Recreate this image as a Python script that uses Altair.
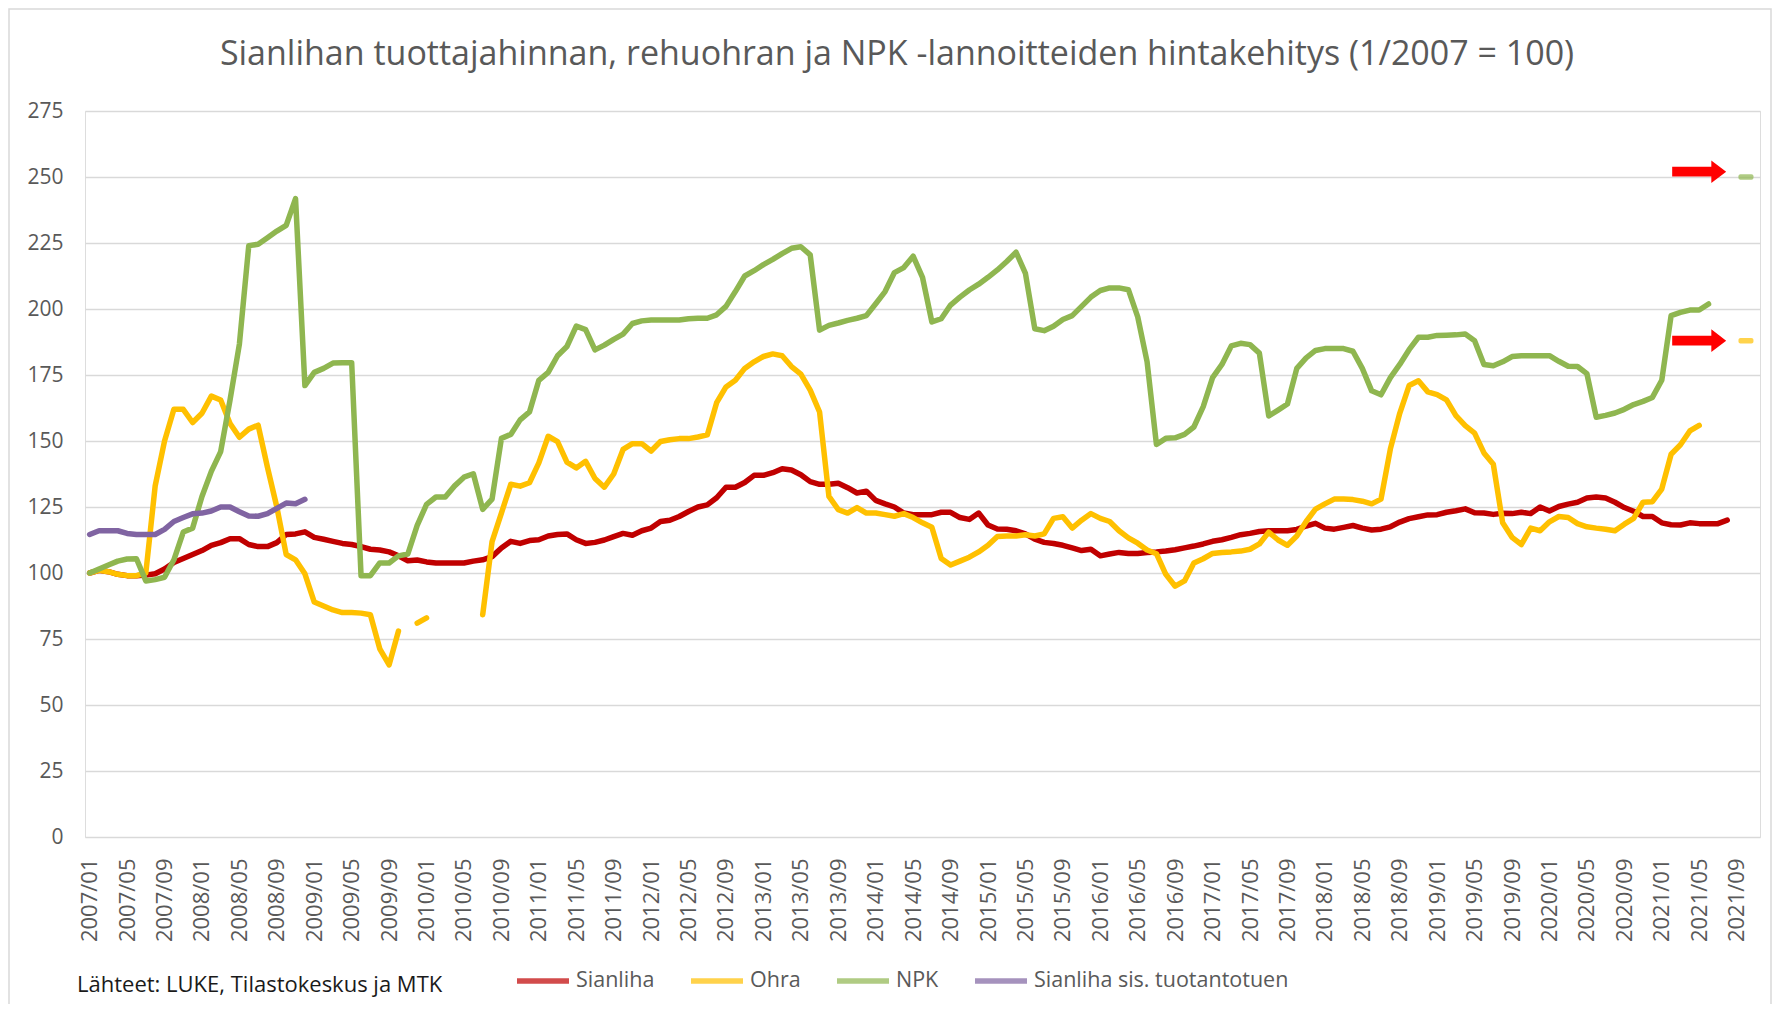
import altair as alt
import pandas as pd

# ---------------- data ----------------
months = [f"{y}/{m:02d}" for y in range(2007, 2022) for m in range(1, 13)]
months = months[: months.index("2021/11") + 1]
tick_labels = months[::4]  # 2007/01, 2007/05, ..., 2021/09

series_names = ["Sianliha", "Ohra", "NPK", "Sianliha sis. tuotantotuen"]
series_colors = ["#C00000", "#FFC000", "#8FB650", "#8064A2"]

sianliha = [
    100, 101, 100.5, 99.5, 99, 99, 99.2, 99.7, 101.5, 104,
    105.5, 107, 108.5, 110.5, 111.5, 113, 113, 110.8, 110, 110,
    111.5, 114.6, 114.8, 115.6, 113.5, 112.8, 112, 111.2, 110.8, 110,
    109, 108.7, 108, 106.5, 104.6, 104.9, 104.2, 103.8, 103.8, 103.8,
    103.8, 104.5, 105, 106.2, 109.5, 112, 111.2, 112.3, 112.6, 114,
    114.6, 114.8, 112.6, 111.2, 111.6, 112.5, 113.8, 115, 114.3, 116,
    117, 119.5, 120, 121.4, 123.3, 125, 125.8, 128.5, 132.5, 132.5,
    134.3, 137, 137, 138, 139.5, 139, 137.2, 134.6, 133.6, 133.6,
    134, 132.3, 130.3, 131, 127.5, 126.2, 125, 122.7, 122.1, 122.1,
    122.1, 123, 123, 121, 120.3, 122.7, 118.2, 116.7, 116.6, 116,
    114.8, 112.8, 111.6, 111.2, 110.5, 109.5, 108.5, 109, 106.5, 107.2,
    107.8, 107.4, 107.4, 107.8, 108, 108.3, 108.8, 109.5, 110.2, 111,
    112, 112.6, 113.5, 114.5, 115, 115.7, 116, 116, 116, 116.5,
    117.8, 118.8, 117, 116.6, 117.3, 118, 117, 116.3, 116.6, 117.5,
    119.3, 120.6, 121.3, 122, 122.1, 123, 123.6, 124.3, 122.8, 122.7,
    122.2, 122.6, 122.5, 123, 122.5, 125, 123.5, 125.2, 126.1, 126.8,
    128.4, 128.8, 128.4, 126.8, 124.8, 123.4, 121.4, 121.4, 119, 118.3,
    118.2, 119, 118.7, 118.7, 118.7, 120,
]

ohra = [
    100, 101, 100.5, 99.5, 99, 99, 100, 133, 150, 162,
    162, 157, 160.5, 167, 165.5, 156.6, 151.4, 154.5, 156, 140,
    125, 107, 105, 99.7, 89, 87.5, 86, 85, 85, 84.8,
    84.2, 71.3, 65.2, 78, None, 81, 83, None, None, None,
    None, None, 84.2, 111.9, 122.7, 133.6, 132.9, 134.2, 141.7, 151.8,
    149.8, 142, 139.8, 142.3, 135.8, 132.5, 137.5, 146.8, 149, 149,
    146.2, 149.8, 150.5, 150.9, 150.9, 151.5, 152.3, 164.5, 170.5, 173,
    177.5, 180, 182, 183, 182.3, 178.2, 175.3, 169.3, 161, 129,
    124, 122.7, 124.8, 122.7, 122.7, 122.1, 121.5, 122.5, 121, 119,
    117.3, 105.5, 103, 104.5, 106, 108, 110.5, 113.8, 114, 114,
    114.5, 114, 114.8, 120.7, 121.3, 117, 120, 122.5, 120.7, 119.5,
    116, 113.3, 111.3, 108.7, 107.3, 99.5, 95, 97, 103.8, 105.4,
    107.4, 107.8, 108, 108.3, 109, 111, 115.5, 112.5, 110.5, 114,
    119.5, 124.2, 126.2, 128, 128, 127.8, 127.2, 126.2, 128, 147,
    160.5, 171, 172.8, 168.6, 167.6, 165.6, 159.6, 155.8, 153, 145.5,
    141.2, 119, 113.5, 110.8, 117, 116, 119.4, 121.4, 121, 118.7,
    117.5, 117, 116.6, 116, 118.5, 120.7, 126.8, 127, 131.8, 145,
    148.6, 153.8, 155.9,
]

npk = [
    100, 101.5, 103, 104.5, 105.3, 105.4, 97, 97.5, 98.4, 105,
    115.5, 117, 129, 138.5, 146, 165.5, 186.7, 224, 224.5, 227,
    229.5, 231.7, 241.8, 171, 176, 177.5, 179.5, 179.6, 179.6, 99,
    99, 103.8, 103.8, 106.5, 107.2, 118, 126, 128.8, 128.8, 133,
    136.3, 137.6, 124.1, 128, 151, 152.5, 158, 161, 173, 176,
    182.3, 185.8, 193.5, 192.2, 184.5, 186.3, 188.5, 190.5, 194.5, 195.5,
    195.8, 195.8, 195.8, 195.8, 196.3, 196.5, 196.5, 197.8, 201, 206.6,
    212.5, 214.5, 216.8, 218.8, 221, 223, 223.6, 220.5, 192, 193.8,
    194.7, 195.7, 196.5, 197.5, 202, 206.6, 213.8, 215.7, 220, 212,
    195.1, 196.3, 201.5, 204.5, 207.2, 209.4, 212, 214.8, 218, 221.5,
    213.5, 192.5, 191.8, 193.5, 196, 197.5, 201, 204.5, 207, 208,
    208, 207.3, 197, 180, 148.7, 151, 151.2, 152.5, 155.3, 163,
    174, 179, 186, 187, 186.5, 183.3, 159.5, 161.7, 164, 177.5,
    181.5, 184.3, 185, 185, 185, 184, 177.5, 169, 167.5, 174,
    179, 184.6, 189.3, 189.3, 190, 190.1, 190.2, 190.5, 188, 179,
    178.5, 180, 182, 182.3, 182.3, 182.3, 182.3, 180.2, 178.3, 178.2,
    175.5, 159, 159.7, 160.6, 162, 163.8, 165, 166.5, 173, 197.5,
    198.7, 199.6, 199.6, 201.9,
]

sianliha_tuki = [
    114.6, 116, 116, 116, 115, 114.6, 114.6, 114.6, 116.5, 119.5,
    121, 122.4, 122.7, 123.5, 125, 125, 123.2, 121.6, 121.5, 122.5,
    124.5, 126.5, 126.2, 127.9,
]

# single forecast points (drawn as short dashes) and the red arrows
forecast_month = "2021/10"
forecast_series = ["NPK", "Ohra"]
forecast_values = [250, 188]
arrow_month = "2021/05"
arrow_values = [252, 188]

source_text = "Lähteet: LUKE, Tilastokeskus ja MTK"
title_text = "Sianlihan tuottajahinnan, rehuohran ja NPK -lannoitteiden hintakehitys (1/2007 = 100)"

# ---------------- tidy table ----------------
rows = []
for name, vals in zip(series_names, [sianliha, ohra, npk, sianliha_tuki]):
    seg = 0
    for i, v in enumerate(vals):
        if v is None:
            seg += 1
            continue
        rows.append({"month": months[i], "idx": i, "value": v,
                     "series": name, "seg": f"{name}-{seg}"})
df = pd.DataFrame(rows)

color_of = dict(zip(series_names, series_colors))
fc = pd.DataFrame({"month": [forecast_month] * len(forecast_values),
                   "value": forecast_values,
                   "col": [color_of[s] for s in forecast_series]})
ar = pd.DataFrame({"month": [arrow_month] * len(arrow_values), "value": arrow_values})

W, H = 1675, 726
FONT = "Open Sans"
GREY = "#595959"

x_enc = alt.X(
    "month:O",
    sort=months,
    scale=alt.Scale(type="point", padding=0.5, domain=months),
    axis=alt.Axis(
        title=None, values=tick_labels, labelAngle=270, labelFont=FONT,
        labelFontSize=22, labelColor=GREY, labelPadding=21, ticks=False,
        domain=False, grid=False, labelOverlap=False,
    ),
)
y_enc = alt.Y(
    "value:Q",
    scale=alt.Scale(domain=[0, 275], nice=False),
    axis=alt.Axis(
        title=None, values=list(range(0, 276, 25)), labelFont=FONT,
        labelFontSize=21, labelColor=GREY, labelPadding=22, ticks=False,
        domain=False, grid=True, gridColor="#D9D9D9", gridWidth=1.4,
    ),
)

lines = alt.Chart(df).mark_line(
    strokeWidth=5.5, strokeCap="round", strokeJoin="round"
).encode(
    x=x_enc,
    y=y_enc,
    color=alt.Color(
        "series:N",
        sort=series_names,
        scale=alt.Scale(domain=series_names, range=series_colors),
        legend=alt.Legend(
            title=None, orient="none", legendX=429, legendY=841,
            direction="horizontal", columns=4, symbolType="stroke",
            symbolSize=2704, symbolStrokeWidth=5.5, labelFont=FONT,
            labelFontSize=21.5, labelColor=GREY, labelOffset=4,
            columnPadding=25, padding=0, labelLimit=0,
        ),
    ),
    detail="seg:N",
    order="idx:Q",
)

ticks = alt.Chart(fc).mark_tick(thickness=5.5, size=15, cornerRadius=2).encode(
    x=alt.X("month:O", sort=months), y="value:Q",
    color=alt.Color("col:N", scale=None),
)

arrow_path = "M -1 -0.18 L 0.45 -0.18 L 0.45 -0.42 L 1 0 L 0.45 0.42 L 0.45 0.18 L -1 0.18 Z"
arrows = alt.Chart(ar).mark_point(
    shape=arrow_path, filled=True, color="#FF0000", size=2916, opacity=1, strokeWidth=0
).encode(x=alt.X("month:O", sort=months), y="value:Q")

source = alt.Chart(pd.DataFrame({"t": [source_text]})).mark_text(
    align="left", baseline="middle", font=FONT, fontSize=22, color="#1a1a1a"
).encode(text="t:N", x=alt.value(-8), y=alt.value(874))

title = alt.Chart(pd.DataFrame({"t": [title_text]})).mark_text(
    align="center", baseline="middle", font=FONT, fontSize=34, color=GREY
).encode(text="t:N", x=alt.value(812), y=alt.value(-56))

border = alt.Chart(pd.DataFrame({"a": [0]})).mark_rect(
    filled=False, stroke="#D9D9D9", strokeWidth=1.5
).encode(x=alt.value(-76), y=alt.value(-102), x2=alt.value(1686), y2=alt.value(1000))

chart = alt.layer(border, lines, ticks, arrows, source, title).properties(
    width=W,
    height=H,
    padding={"left": 77, "top": 103, "right": 12, "bottom": 167},
    autosize=alt.AutoSizeParams(type="none"),
).configure_view(strokeWidth=0).configure(background="white")

chart.save("out.html", embed_options={"renderer": "svg", "actions": False})
